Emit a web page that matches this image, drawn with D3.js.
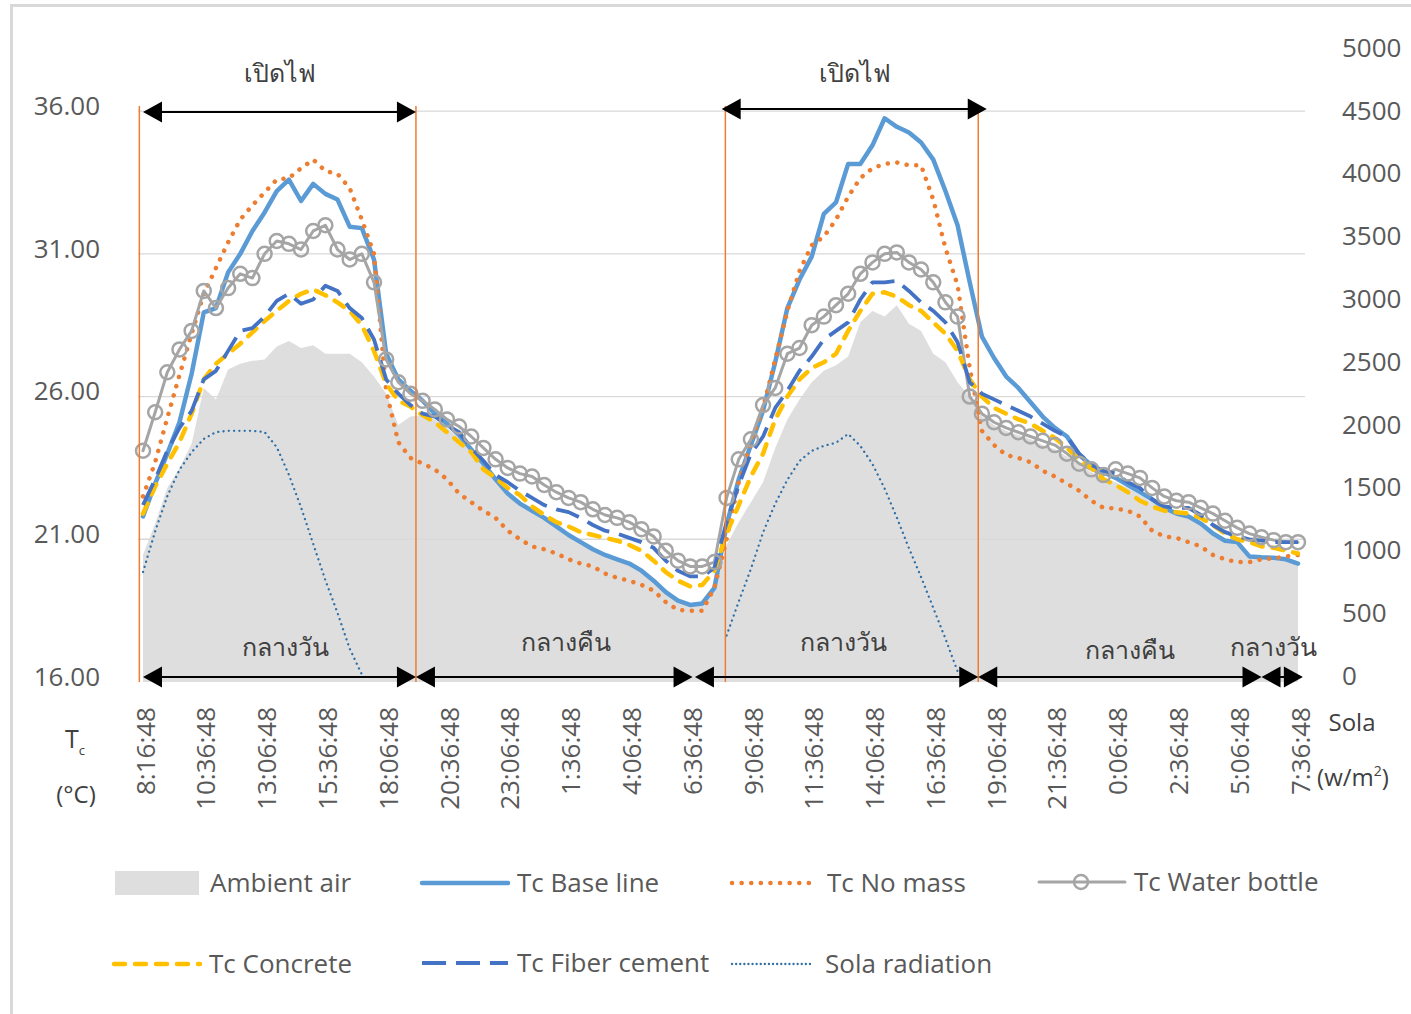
<!DOCTYPE html>
<html>
<head>
<meta charset="utf-8">
<script src="https://d3js.org/d3.v7.min.js"></script>
<style>
  body { margin: 0; background: #fff; }
  svg { display: block; }
  text { font-family: "Open Sans", "Noto Sans", sans-serif; }
</style>
</head>
<body>
<svg id="chart" width="1411" height="1014"></svg>
<script>
// categories: measurement times (30 min steps)
var times = ("8:16:48 8:36:48 9:06:48 9:36:48 10:06:48 10:36:48 11:06:48 11:36:48 12:06:48 12:36:48 " +
  "13:06:48 13:36:48 14:06:48 14:36:48 15:06:48 15:36:48 16:06:48 16:36:48 17:06:48 17:36:48 " +
  "18:06:48 18:36:48 19:06:48 19:36:48 20:06:48 20:36:48 21:06:48 21:36:48 22:06:48 22:36:48 " +
  "23:06:48 23:36:48 0:06:48 0:36:48 1:06:48 1:36:48 2:06:48 2:36:48 3:06:48 3:36:48 " +
  "4:06:48 4:36:48 5:06:48 5:36:48 6:06:48 6:36:48 7:06:48 7:36:48 8:06:48 8:36:48 " +
  "9:06:48 9:36:48 10:06:48 10:36:48 11:06:48 11:36:48 12:06:48 12:36:48 13:06:48 13:36:48 " +
  "14:06:48 14:36:48 15:06:48 15:36:48 16:06:48 16:36:48 17:06:48 17:36:48 18:06:48 18:36:48 " +
  "19:06:48 19:36:48 20:06:48 20:36:48 21:06:48 21:36:48 22:06:48 22:36:48 23:06:48 23:36:48 " +
  "0:06:48 0:36:48 1:06:48 1:36:48 2:06:48 2:36:48 3:06:48 3:36:48 4:06:48 4:36:48 " +
  "5:06:48 5:36:48 6:06:48 6:36:48 7:06:48 7:36:48").split(" ");

var ambientAir = [20.45, 21.55, 22.8, 23.5, 24.35, 26.3, 25.9, 26.95, 27.15, 27.25,
  27.3, 27.75, 27.95, 27.7, 27.8, 27.5, 27.5, 27.5, 27.2, 26.7,
  26.1, 25.0, 25.3, 25.35, 25.2, 24.9, 24.55, 24.1, 23.6, 23.05,
  22.55, 22.2, 21.95, 21.7, 21.4, 21.1, 20.85, 20.6, 20.4, 20.25,
  20.1, 19.85, 19.5, 19.1, 18.8, 18.65, 18.7, 19.2, 20.8, 21.6,
  22.3, 23.0, 24.2, 25.2, 25.9, 26.5, 26.9, 27.1, 27.4, 28.6,
  29.0, 28.8, 29.2, 28.55, 28.3, 27.5, 27.2, 26.5, 26.0, 25.3,
  25.0, 24.8, 24.65, 24.5, 24.3, 24.15, 23.9, 23.6, 23.35, 23.15,
  23.0, 22.8, 22.55, 22.3, 22.0, 21.85, 21.75, 21.5, 21.2, 20.95,
  20.85, 20.4, 20.35, 20.3, 20.25, 20.1];

var tcBaseLine = [21.8, 22.95, 24.0, 25.1, 26.8, 28.95, 29.1, 30.35, 31.0, 31.8,
  32.45, 33.2, 33.6, 32.85, 33.45, 33.1, 32.9, 31.95, 31.9, 30.8,
  27.5, 26.6, 26.2, 25.85, 25.4, 25.05, 24.65, 24.15, 23.65, 23.1,
  22.6, 22.25, 22.0, 21.75, 21.45, 21.15, 20.9, 20.65, 20.45, 20.3,
  20.15, 19.9, 19.55, 19.15, 18.85, 18.7, 18.75, 19.3, 21.5, 23.1,
  24.3, 25.5, 27.2, 29.1, 30.1, 30.9, 32.4, 32.8, 34.15, 34.15,
  34.8, 35.75, 35.45, 35.25, 34.9, 34.3, 33.2, 32.0, 30.0, 28.1,
  27.35, 26.7, 26.3, 25.8, 25.3, 24.9, 24.6, 23.95, 23.6, 23.35,
  23.15, 22.9, 22.65, 22.4, 22.1, 21.9, 21.8, 21.55, 21.2, 20.95,
  20.9, 20.4, 20.37, 20.35, 20.3, 20.15];

var tcNoMass = [22.5, 23.7, 25.25, 26.75, 28.2, 29.6, 30.5, 31.4, 32.2, 32.7,
  33.15, 33.6, 33.65, 34.0, 34.3, 33.9, 33.8, 33.3, 32.2, 31.0,
  26.2, 24.4, 23.85, 23.65, 23.45, 23.1, 22.6, 22.3, 22.0, 21.75,
  21.3, 21.0, 20.75, 20.65, 20.5, 20.3, 20.15, 20.05, 19.8, 19.65,
  19.55, 19.4, 19.2, 18.8, 18.52, 18.5, 18.5, 19.3, 21.0, 23.0,
  24.4, 25.6, 27.3, 29.0, 30.4, 31.3, 31.6, 32.2, 33.0, 33.65,
  34.0, 34.15, 34.2, 34.1, 34.1, 32.9, 31.2, 29.9, 27.0, 24.8,
  24.3, 23.95, 23.85, 23.7, 23.4, 23.2, 22.95, 22.7, 22.35, 22.1,
  22.08, 22.0, 21.8, 21.3, 21.1, 21.05, 20.9, 20.75, 20.45, 20.3,
  20.2, 20.2, 20.3, 20.33, 20.4, 20.45];

var tcWaterBottle = [24.1, 25.45, 26.85, 27.65, 28.3, 29.7, 29.1, 29.8, 30.3, 30.15,
  31.0, 31.45, 31.35, 31.15, 31.8, 32.0, 31.15, 30.8, 31.0, 30.0,
  27.3, 26.5, 26.1, 25.85, 25.55, 25.2, 24.95, 24.6, 24.2, 23.8,
  23.5, 23.3, 23.2, 22.9, 22.65, 22.45, 22.3, 22.05, 21.85, 21.75,
  21.6, 21.35, 21.1, 20.6, 20.25, 20.05, 20.05, 20.2, 22.45, 23.8,
  24.5, 25.7, 26.3, 27.5, 27.7, 28.5, 28.8, 29.2, 29.6, 30.3,
  30.7, 31.0, 31.05, 30.7, 30.45, 30.0, 29.3, 28.8, 26.0, 25.4,
  25.1, 24.9, 24.75, 24.6, 24.45, 24.3, 24.0, 23.65, 23.45, 23.25,
  23.45, 23.3, 23.15, 22.8, 22.5, 22.35, 22.3, 22.1, 21.9, 21.65,
  21.4, 21.2, 21.07, 20.97, 20.9, 20.9];

var tcConcrete = [21.9, 22.85, 23.65, 24.4, 25.4, 26.6, 27.15, 27.5, 27.85, 28.25,
  28.65, 29.0, 29.35, 29.6, 29.75, 29.55, 29.3, 29.0, 28.5, 27.6,
  26.45, 25.85, 25.65, 25.35, 25.1, 24.75, 24.4, 24.05, 23.45, 23.15,
  22.8, 22.55, 22.15, 21.85, 21.6, 21.45, 21.25, 21.15, 21.05, 20.95,
  20.8, 20.6, 20.25, 19.85, 19.55, 19.35, 19.4, 19.9, 21.2, 22.2,
  23.2, 24.0, 25.2, 26.0, 26.6, 27.0, 27.2, 27.5, 28.3, 29.0,
  29.6, 29.65, 29.5, 29.2, 29.0, 28.6, 28.2, 27.6, 26.6, 26.0,
  25.6, 25.4, 25.2, 25.05, 24.8, 24.55, 24.2, 23.8, 23.5, 23.1,
  22.9, 22.65, 22.35, 22.15, 22.0, 21.95, 21.9, 21.75, 21.5, 21.2,
  21.0, 20.9, 20.75, 20.7, 20.6, 20.5];

var tcFiberCement = [22.2, 23.1, 24.1, 24.9, 25.5, 26.6, 26.9, 27.6, 28.3, 28.4,
  28.8, 29.35, 29.6, 29.25, 29.4, 29.88, 29.7, 29.1, 28.75, 28.0,
  26.6, 26.1, 25.7, 25.4, 25.3, 25.0, 24.75, 24.2, 23.75, 23.25,
  23.0, 22.7, 22.45, 22.2, 22.05, 21.95, 21.75, 21.5, 21.3, 21.2,
  21.05, 20.9, 20.7, 20.25, 19.9, 19.7, 19.7, 20.0, 21.6, 22.9,
  24.0, 24.6, 25.6, 26.2, 26.9, 27.4, 28.0, 28.3, 28.6, 29.4,
  30.0, 30.0, 30.05, 29.7, 29.3, 29.0, 28.6, 27.9, 26.5, 26.1,
  25.9, 25.7, 25.5, 25.3, 25.05, 24.8, 24.6, 24.0, 23.6, 23.4,
  23.3, 23.0, 22.8, 22.4, 22.15, 22.1, 22.1, 21.85, 21.5, 21.25,
  21.1, 21.0, 20.95, 20.9, 20.9, 20.9];

// solar radiation (w/m2), blank at night
var solaRadiation = [876, 1200, 1480, 1690, 1830, 1935, 1990, 2000, 2000, 2000,
  1990, 1870, 1650, 1390, 1100, 810, 550, 265, 60, null,
  null, null, null, null, null, null, null, null, null, null,
  null, null, null, null, null, null, null, null, null, null,
  null, null, null, null, null, null, null, null, 370, 640,
  900, 1190, 1420, 1610, 1760, 1840, 1880, 1905, 1975, 1880,
  1735, 1540, 1310, 1065, 835, 590, 345, 85, null, null,
  null, null, null, null, null, null, null, null, null, null,
  null, null, null, null, null, null, null, null, null, null,
  null, null, null, null, null, null];

var leftTicks = [16, 21, 26, 31, 36];
var rightTicks = [0, 500, 1000, 1500, 2000, 2500, 3000, 3500, 4000, 4500, 5000];
var labelIdx = [0, 5, 10, 15, 20, 25, 30, 35, 40, 45, 50, 55, 60, 65, 70, 75, 80, 85, 90, 95];

// annotations, in category-index units
var lightsOn = [[0, 22.45], [47.6, 69.4]];
var markerLines = [-0.3, 22.45, 47.9, 68.7];
var periodSpans = [[0, 22.45], [22.45, 45.2], [45.4, 68.7], [68.7, 92.0], [92.0, 95.4]];
var periodLabels = [
  { t: "กลางวัน", i: 11.7, dy: -30 },
  { t: "กลางคืน", i: 34.8, dy: -35 },
  { t: "กลางวัน", i: 57.6, dy: -35 },
  { t: "กลางคืน", i: 81.2, dy: -27 },
  { t: "กลางวัน", i: 93.0, dy: -30 }
];

var svg = d3.select("#chart");

var x = d3.scaleLinear().domain([0, 95]).range([143, 1298]);
var yL = d3.scaleLinear().domain([16, 38]).range([682, 54]);
var yR = d3.scaleLinear().domain([0, 5000]).range([682, 54]);

// outer frame
svg.append("rect")
    .attr("x", 11.5).attr("y", 5.5)
    .attr("width", 1420).attr("height", 1030)
    .attr("fill", "none").attr("stroke", "#d9d9d9").attr("stroke-width", 3);

// ambient area
svg.append("path")
    .datum(ambientAir)
    .attr("fill", "#bdbdbd").attr("fill-opacity", 0.5)
    .attr("d", d3.area()
        .x(function (d, i) { return x(i); })
        .y0(yL(16))
        .y1(function (d) { return yL(d); }));

// gridlines
svg.append("g")
    .selectAll("line").data(leftTicks.slice(1)).enter()
    .append("line")
    .attr("x1", 138).attr("x2", 1305)
    .attr("y1", function (d) { return yL(d); })
    .attr("y2", function (d) { return yL(d); })
    .attr("stroke", "#d9d9d9").attr("stroke-width", 1.3);

// left axis
var gl = svg.append("g").attr("transform", "translate(100,0)")
    .call(d3.axisLeft(yL).tickValues(leftTicks).tickFormat(d3.format(".2f")).tickSize(0).tickPadding(0));
gl.select(".domain").remove();
gl.selectAll("text").attr("dy", "0.32em").attr("y", -5)
    .style("font-size", "26px").attr("fill", "#595959");

// right axis
var gr = svg.append("g").attr("transform", "translate(1342,0)")
    .call(d3.axisRight(yR).tickValues(rightTicks).tickFormat(d3.format("d")).tickSize(0).tickPadding(0));
gr.select(".domain").remove();
gr.selectAll("text").attr("dy", "0.32em").attr("y", -6)
    .style("font-size", "26px").attr("fill", "#595959");

// x axis labels (rotated)
var gx = svg.append("g").attr("transform", "translate(0,707)")
    .call(d3.axisBottom(x).tickValues(labelIdx).tickFormat(function (i) { return times[i]; }).tickSize(0));
gx.select(".domain").remove();
gx.selectAll("text")
    .attr("transform", "rotate(-90)")
    .attr("x", 0).attr("y", 2).attr("dy", "0.35em")
    .attr("text-anchor", "end")
    .style("font-size", "26px").attr("fill", "#595959");

// series
var line = function (scale) {
  return d3.line()
      .defined(function (d) { return d !== null; })
      .x(function (d, i) { return x(i); })
      .y(function (d) { return scale(d); });
};

var series = [
  { data: tcBaseLine, color: "#5b9bd5", width: 4.5, dash: null, cap: "round" },
  { data: tcNoMass, color: "#ed7d31", width: 4.5, dash: "0.1,9.5", cap: "round" },
  { data: tcWaterBottle, color: "#a5a5a5", width: 3, dash: null, cap: "round" },
  { data: tcConcrete, color: "#ffc000", width: 4.5, dash: "11,10", cap: "round" },
  { data: tcFiberCement, color: "#4472c4", width: 3.8, dash: "24,10", cap: "butt" }
];

series.forEach(function (s) {
  svg.append("path")
      .datum(s.data)
      .attr("fill", "none")
      .attr("stroke", s.color)
      .attr("stroke-width", s.width)
      .attr("stroke-linejoin", "round")
      .attr("stroke-linecap", s.cap)
      .attr("stroke-dasharray", s.dash)
      .attr("d", line(yL));
});

svg.append("g")
    .selectAll("circle").data(tcWaterBottle).enter()
    .append("circle")
    .attr("cx", function (d, i) { return x(i); })
    .attr("cy", function (d) { return yL(d); })
    .attr("r", 7)
    .attr("fill", "none")
    .attr("stroke", "#a5a5a5").attr("stroke-width", 2.5);

svg.append("path")
    .datum(solaRadiation)
    .attr("fill", "none")
    .attr("stroke", "#2e6fa8")
    .attr("stroke-width", 2.3)
    .attr("stroke-linecap", "round")
    .attr("stroke-dasharray", "0.1,5.2")
    .attr("d", line(yR));

// annotation lines
svg.append("g")
    .selectAll("line").data(markerLines).enter()
    .append("line")
    .attr("x1", function (d) { return x(d); })
    .attr("x2", function (d) { return x(d); })
    .attr("y1", 106).attr("y2", 682)
    .attr("stroke", "#ed7d31").attr("stroke-width", 1.5);

function arrow(g, xa, xb, y) {
  var L = 19, h = 10.5;
  g.append("line")
      .attr("x1", xa + 4).attr("x2", xb - 4)
      .attr("y1", y).attr("y2", y)
      .attr("stroke", "#000").attr("stroke-width", 2);
  g.append("path")
      .attr("d", "M" + xa + "," + y + "L" + (xa + L) + "," + (y - h) + "L" + (xa + L) + "," + (y + h) + "Z")
      .attr("fill", "#000");
  g.append("path")
      .attr("d", "M" + xb + "," + y + "L" + (xb - L) + "," + (y - h) + "L" + (xb - L) + "," + (y + h) + "Z")
      .attr("fill", "#000");
}

var ga = svg.append("g");
lightsOn.forEach(function (s, k) {
  arrow(ga, x(s[0]), x(s[1]), k === 0 ? 112 : 109);
  ga.append("text")
      .attr("x", (x(s[0]) + x(s[1])) / 2 + 1)
      .attr("y", 82)
      .attr("text-anchor", "middle")
      .style("font-size", "25px").attr("fill", "#404040")
      .text("เปิดไฟ");
});
periodSpans.forEach(function (s) {
  arrow(ga, x(s[0]), x(s[1]), 677);
});
periodLabels.forEach(function (p) {
  ga.append("text")
      .attr("x", x(p.i)).attr("y", 677 + p.dy + 9)
      .attr("text-anchor", "middle")
      .style("font-size", "25px").attr("fill", "#404040")
      .text(p.t);
});

// axis titles
var tl = svg.append("text").attr("x", 65).attr("y", 748)
    .style("font-size", "25px").attr("fill", "#404040");
tl.append("tspan").text("T");
tl.append("tspan").attr("dy", 7).style("font-size", "13px").text("c");
svg.append("text").attr("x", 76).attr("y", 803).attr("text-anchor", "middle")
    .style("font-size", "24px").attr("fill", "#404040").text("(°C)");
svg.append("text").attr("x", 1352).attr("y", 731).attr("text-anchor", "middle")
    .style("font-size", "24px").attr("fill", "#404040").text("Sola");
var tr = svg.append("text").attr("x", 1353).attr("y", 786).attr("text-anchor", "middle")
    .style("font-size", "24px").attr("fill", "#404040");
tr.append("tspan").text("(w/m");
tr.append("tspan").attr("dy", -10).style("font-size", "14px").text("2");
tr.append("tspan").attr("dy", 10).text(")");

// legend
var legend = [
  { name: "Ambient air", kind: "area", x: 115, y: 883 },
  { name: "Tc Base line", kind: "line", x: 420, y: 883, s: series[0] },
  { name: "Tc No mass", kind: "line", x: 730, y: 883, s: series[1] },
  { name: "Tc Water bottle", kind: "marker", x: 1037, y: 882, s: series[2] },
  { name: "Tc Concrete", kind: "line", x: 112, y: 964, s: series[3] },
  { name: "Tc Fiber cement", kind: "line", x: 420, y: 963, s: series[4] },
  { name: "Sola radiation", kind: "sola", x: 730, y: 964 }
];
var gleg = svg.append("g");
legend.forEach(function (d) {
  var g = gleg.append("g").attr("transform", "translate(" + d.x + "," + d.y + ")");
  if (d.kind === "area") {
    g.append("rect").attr("x", 0).attr("y", -12).attr("width", 84).attr("height", 24)
        .attr("fill", "#bdbdbd").attr("fill-opacity", 0.5);
  } else if (d.kind === "sola") {
    g.append("line").attr("x1", 2).attr("x2", 80)
        .attr("stroke", "#2e6fa8").attr("stroke-width", 2.3)
        .attr("stroke-linecap", "round").attr("stroke-dasharray", "0.1,4");
  } else {
    g.append("line").attr("x1", 2).attr("x2", 88)
        .attr("stroke", d.s.color).attr("stroke-width", d.s.width)
        .attr("stroke-linecap", d.s.cap).attr("stroke-dasharray", d.s.dash);
    if (d.kind === "marker") {
      g.append("circle").attr("cx", 44).attr("r", 7)
          .attr("fill", "none").attr("stroke", "#a5a5a5").attr("stroke-width", 2.5);
    }
  }
  g.append("text").attr("x", d.kind === "line" || d.kind === "marker" ? 97 : 95).attr("y", 0)
      .attr("dy", "0.35em")
      .style("font-size", "26px").attr("fill", "#595959")
      .text(d.name);
});
</script>
</body>
</html>
